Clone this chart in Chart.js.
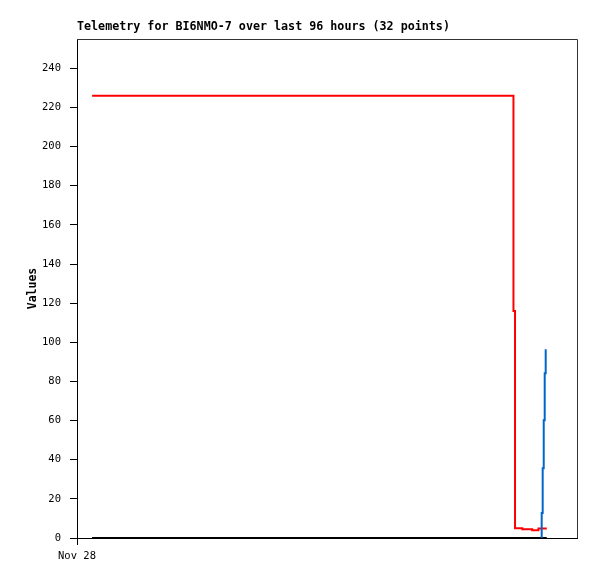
<!DOCTYPE html>
<html>
<head>
<meta charset="utf-8">
<script src="https://cdn.jsdelivr.net/npm/chart.js@4/dist/chart.umd.min.js"></script>
<style>
  body { margin: 0; background: #fff; }
  canvas { display: block; }
</style>
</head>
<body>
<canvas id="telemetry" width="597" height="579"></canvas>
<script>
// hours since Nov 28 00:00
const redHours = [2.9, 83.8, 84.1, 85.5, 87.4, 88.6, 90.2];
const redValues = [226, 116, 5, 4.5, 4, 4.8, 4.8];

const blackHours = [2.9, 90.2];
const blackValues = [0, 0];

const blueHours = [89.09, 89.22, 89.41, 89.61, 89.80, 89.99];
const blueValues = [0, 12.8, 35.7, 60.2, 84.2, 96.4];

const yTicks = [0, 20, 40, 60, 80, 100, 120, 140, 160, 180, 200, 220, 240];
const xTickLabels = { 0: "Nov 28" };

const titleText = "Telemetry for BI6NMO-7 over last 96 hours (32 points)";

const toPoints = (xs, ys) => xs.map((x, i) => ({ x: x, y: ys[i] }));

const frame = {
  id: "frame",
  afterDraw(chart) {
    const { ctx, chartArea } = chart;
    ctx.save();
    ctx.strokeStyle = "#333";
    ctx.lineWidth = 1;
    ctx.beginPath();
    ctx.moveTo(chartArea.left, chartArea.top + 0.5);
    ctx.lineTo(chartArea.right + 0.5, chartArea.top + 0.5);
    ctx.lineTo(chartArea.right + 0.5, chartArea.bottom);
    ctx.stroke();
    ctx.fillStyle = "#000";
    ctx.font = "bold 11.7px 'DejaVu Sans Mono'";
    ctx.textBaseline = "alphabetic";
    ctx.fillText(titleText, chartArea.left, 30);
    ctx.restore();
  }
};

new Chart(document.getElementById("telemetry"), {
  type: "line",
  data: {
    datasets: [
      {
        label: "blue",
        data: toPoints(blueHours, blueValues),
        borderColor: "#0066cc",
        borderWidth: 2,
        stepped: true,
        pointRadius: 0
      },
      {
        label: "black",
        data: toPoints(blackHours, blackValues),
        borderColor: "#000",
        borderWidth: 2,
        stepped: true,
        pointRadius: 0
      },
      {
        label: "red",
        data: toPoints(redHours, redValues),
        borderColor: "#ff0000",
        borderWidth: 2,
        stepped: true,
        pointRadius: 0
      }
    ]
  },
  options: {
    responsive: false,
    devicePixelRatio: 1,
    animation: false,
    layout: { padding: { top: 39, right: 20, left: 0, bottom: 0 } },
    plugins: {
      legend: { display: false },
      title: { display: false },
      tooltip: { enabled: false }
    },
    scales: {
      x: {
        type: "linear",
        min: 0,
        max: 96,
        afterBuildTicks: (scale) => { scale.ticks = Object.keys(xTickLabels).map(v => ({ value: +v })); },
        afterFit: (scale) => { scale.height = 41; },
        grid: { drawOnChartArea: false, drawTicks: true, tickLength: 7, color: "#000" },
        border: { display: true, color: "#000", width: 1 },
        ticks: {
          maxRotation: 0,
          padding: 5,
          color: "#000",
          font: { family: "'DejaVu Sans Mono'", size: 10.5 },
          callback: (v) => xTickLabels[v] || ""
        }
      },
      y: {
        min: 0,
        max: 255,
        afterBuildTicks: (scale) => { scale.ticks = yTicks.map(v => ({ value: v })); },
        afterFit: (scale) => { scale.width = 77; },
        grid: { drawOnChartArea: false, drawTicks: true, tickLength: 7, color: "#000" },
        border: { display: true, color: "#000", width: 1 },
        title: {
          display: true,
          text: "Values",
          color: "#000",
          font: { family: "'DejaVu Sans Mono'", size: 11.5, weight: "bold" },
          padding: { top: 26, bottom: 0 }
        },
        ticks: {
          padding: 9,
          color: "#000",
          font: { family: "'DejaVu Sans Mono'", size: 10.5 }
        }
      }
    }
  },
  plugins: [frame]
});
</script>
</body>
</html>
